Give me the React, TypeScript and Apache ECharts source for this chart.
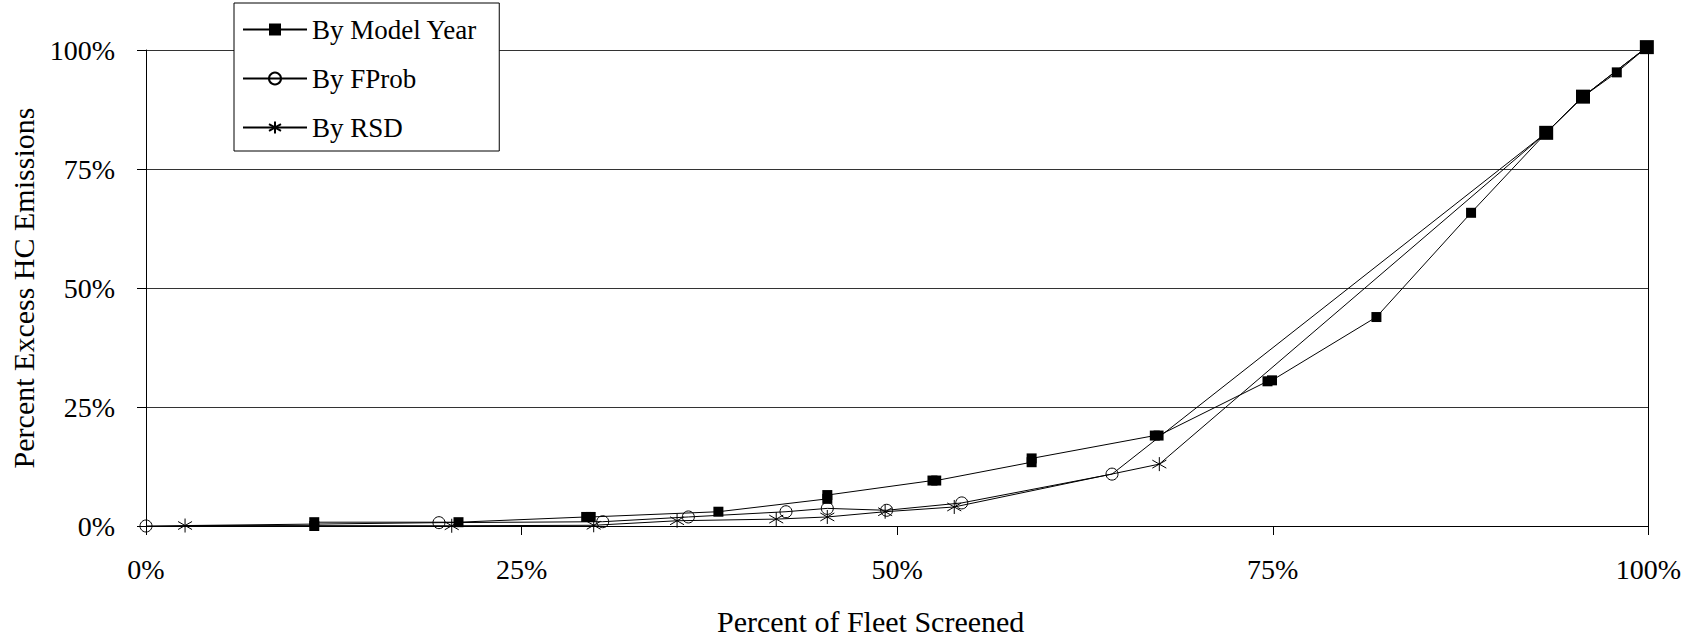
import React, { useEffect, useRef } from "react";
import * as echarts from "echarts";

// Axis ticks (percent)
const xTicks = [0, 25, 50, 75, 100];
const yTicks = [0, 25, 50, 75, 100];

// Final points shared by all three curves
const sharedTailX = [93.2, 95.65, 99.9];
const sharedTailY = [82.6, 90.2, 100.6];

// By Model Year (filled squares)
const modelYearX = [11.2, 11.2, 20.8, 29.3, 29.6, 38.1, 45.35, 45.35, 52.35, 52.6, 58.95, 58.95, 67.15, 67.4, 74.65, 74.95, 81.9, 88.2, 93.2, 95.65, 97.9, 99.9];
const modelYearY = [0.0, 0.8, 0.8, 1.9, 1.9, 3.0, 5.7, 6.5, 9.55, 9.55, 13.4, 14.2, 19.0, 19.0, 30.4, 30.6, 43.9, 65.8, 82.6, 90.2, 95.3, 100.6];

// By FProb (open circles)
const fprobX = [0, 19.5, 30.4, 36.1, 42.6, 45.35, 49.3, 54.3, 64.3];
const fprobY = [0, 0.7, 0.9, 1.9, 3.0, 3.7, 3.3, 4.85, 10.9];

// By RSD (asterisks)
const rsdX = [2.6, 20.35, 29.8, 35.35, 41.95, 45.35, 49.2, 53.8, 67.45];
const rsdY = [0.1, 0.05, 0.15, 1.1, 1.45, 1.9, 3.0, 4.0, 13.0];

const FONT = "'Liberation Serif', 'Times New Roman', serif";
const ASTERISK = "path://M7,0L7,14M1,3L13,11M1,11L13,3";

function pairs(xs: number[], ys: number[]) {
  return xs.map((x, i) => [x, ys[i]]);
}

function withTail(xs: number[], ys: number[]) {
  const own = pairs(xs, ys).map((p) => ({ value: p }));
  const tail = pairs(sharedTailX, sharedTailY).map((p) => ({ value: p, symbol: "none" }));
  return [...own, ...tail];
}

export default function App() {
  const ref = useRef<HTMLDivElement>(null);

  useEffect(() => {
    document.body.style.margin = "0";
    const chart = echarts.init(ref.current!, undefined, { renderer: "svg" });
    chart.setOption({
      animation: false,
      backgroundColor: "#fff",
      textStyle: { fontFamily: FONT, color: "#000" },
      grid: { left: 143, right: 31, top: 50, bottom: 110, containLabel: false },
      legend: {
        orient: "vertical",
        left: 234,
        top: 3,
        padding: [13, 22, 10, 8],
        itemGap: 22,
        itemWidth: 64,
        itemHeight: 15,
        backgroundColor: "#fff",
        borderColor: "#000",
        borderWidth: 1,
        borderRadius: 0,
        textStyle: { fontFamily: FONT, fontSize: 27, color: "#000", padding: [0, 0, 0, 0] },
        data: ["By Model Year", "By FProb", "By RSD"],
      },
      xAxis: {
        type: "value",
        min: xTicks[0],
        max: xTicks[xTicks.length - 1],
        interval: 25,
        name: "Percent of Fleet Screened",
        nameLocation: "middle",
        nameGap: 80,
        nameTextStyle: { fontFamily: FONT, fontSize: 30, color: "#000", padding: [0, 53, 0, 0] },
        axisLine: { show: true, onZero: false, lineStyle: { color: "#000", width: 1 } },
        axisTick: { show: true, inside: false, length: 9, lineStyle: { color: "#000" } },
        axisLabel: { formatter: "{value}%", fontFamily: FONT, fontSize: 28, color: "#000", margin: 29 },
        splitLine: { show: false },
      },
      yAxis: [
        {
          type: "value",
          min: yTicks[0],
          max: yTicks[yTicks.length - 1],
          interval: 25,
          name: "Percent Excess HC Emissions",
          nameLocation: "middle",
          nameGap: 108,
          nameTextStyle: { fontFamily: FONT, fontSize: 30, color: "#000" },
          axisLine: { show: true, onZero: false, lineStyle: { color: "#000", width: 1 } },
          axisTick: { show: true, inside: false, length: 9, lineStyle: { color: "#000" } },
          axisLabel: { formatter: "{value}%", fontFamily: FONT, fontSize: 28, color: "#000", margin: 31 },
          splitLine: { show: true, lineStyle: { color: "#333", width: 1 } },
        },
        {
          type: "value",
          position: "right",
          min: yTicks[0],
          max: yTicks[yTicks.length - 1],
          interval: 25,
          axisLine: { show: true, onZero: false, lineStyle: { color: "#000", width: 1 } },
          axisTick: { show: false },
          axisLabel: { show: false },
          splitLine: { show: false },
        },
      ],
      series: [
        {
          name: "By Model Year",
          type: "line",
          z: 4,
          clip: false,
          data: pairs(modelYearX, modelYearY),
          symbol: "rect",
          symbolSize: (v: number[]) => (sharedTailX.includes(v[0]) ? 14 : 10),
          itemStyle: { color: "#000", borderWidth: 0 },
          lineStyle: { color: "#000", width: 1 },
        },
        {
          name: "By FProb",
          type: "line",
          z: 3,
          clip: false,
          data: withTail(fprobX, fprobY),
          symbol: "circle",
          symbolSize: 12,
          itemStyle: { color: "transparent", borderColor: "#000", borderWidth: 1 },
          lineStyle: { color: "#000", width: 1 },
        },
        {
          name: "By RSD",
          type: "line",
          z: 3,
          clip: false,
          data: withTail(rsdX, rsdY),
          symbol: ASTERISK,
          symbolSize: 14,
          itemStyle: { color: "transparent", borderColor: "#000", borderWidth: 1 },
          lineStyle: { color: "#000", width: 1 },
        },
      ],
    });
    return () => chart.dispose();
  }, []);

  return <div ref={ref} style={{ width: 1684, height: 641 }} />;
}
